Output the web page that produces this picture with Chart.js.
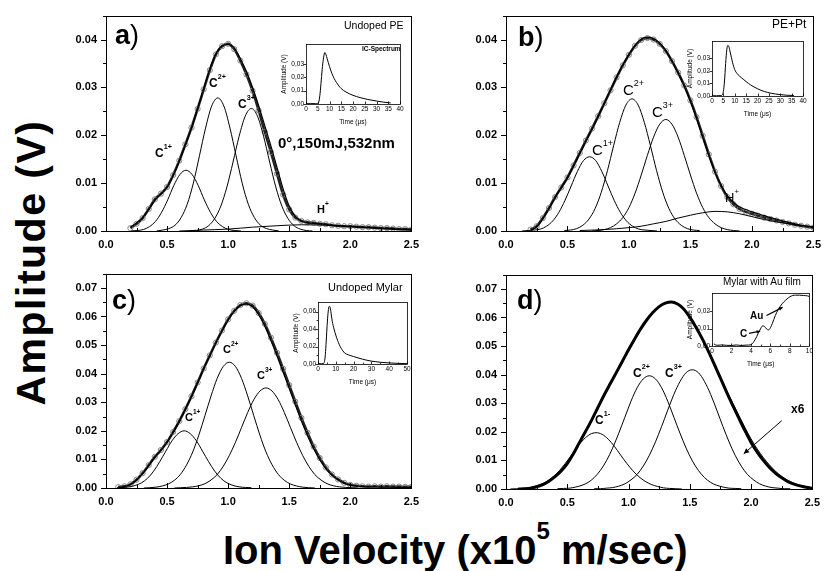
<!DOCTYPE html>
<html>
<head>
<meta charset="utf-8">
<script src="https://cdn.jsdelivr.net/npm/chart.js@4.4.1/dist/chart.umd.min.js"></script>
<style>
html, body { margin: 0; padding: 0; background: #fff; }
#fig { position: relative; width: 824px; height: 571px; overflow: hidden; font-family: "Liberation Sans", Arial, sans-serif; }
canvas { position: absolute; }
.t { position: absolute; line-height: 1; white-space: nowrap; color: #000; }
.s { position: relative; font-size: 0.6em; top: -1.05em; }
</style>
</head>
<body>
<div id="fig"></div>
<script>
// shared velocity grid (x10^5 m/sec)
const velocity = [0.10,0.15,0.20,0.25,0.30,0.35,0.40,0.45,0.50,0.55,0.60,0.65,0.70,0.75,0.80,0.85,0.90,0.95,1.00,1.05,1.10,1.15,1.20,1.25,1.30,1.35,1.40,1.45,1.50,1.55,1.60,1.65,1.70,1.75,1.80,1.85,1.90,1.95,2.00,2.05,2.10,2.15,2.20,2.25,2.30,2.35,2.40,2.45,2.50];

// a) undoped PE
const dataA = [null,null,0.0006,0.0015,0.0027,0.0046,0.0066,0.0078,0.0092,0.0117,0.0147,0.0181,0.0216,0.0255,0.0296,0.0336,0.0369,0.0386,0.0391,0.0380,0.0356,0.0327,0.0293,0.0252,0.0207,0.0165,0.0120,0.0076,0.0045,0.0028,0.0021,0.0018,0.0017,0.0015,0.0014,0.0012,0.0011,0.0010,0.0010,0.0009,0.0008,0.0008,0.0007,0.0006,0.0006,0.0005,0.0004,0.0004,0.0003];
const fitA = [null,null,0.0008,0.0017,0.0028,0.0045,0.0064,0.0077,0.0092,0.0116,0.0146,0.0180,0.0215,0.0256,0.0297,0.0338,0.0370,0.0387,0.0390,0.0382,0.0360,0.0333,0.0300,0.0262,0.0220,0.0178,0.0133,0.0088,0.0052,0.0031,0.0021,0.0017,0.0016,0.0015,0.0014,0.0012,0.0011,0.0010,0.0009,0.0009,0.0008,0.0007,0.0007,0.0006,0.0005,0.0005,0.0004,0.0004,0.0003];
const aC1x = [0.205,0.255,0.305,0.355,0.405,0.455,0.505,0.555,0.605,0.655,0.705,0.755,0.805,0.855,0.905,0.955,1.005,1.055,1.105];
const aC1y = [0.0000,0.0001,0.0003,0.0009,0.0020,0.0039,0.0065,0.0095,0.0118,0.0127,0.0118,0.0095,0.0065,0.0039,0.0020,0.0009,0.0003,0.0001,0.0000];
const aC2x = [0.415,0.465,0.515,0.565,0.615,0.665,0.715,0.765,0.815,0.865,0.915,0.965,1.015,1.065,1.115,1.165,1.215,1.265,1.315,1.365,1.415];
const aC2y = [0.0000,0.0002,0.0005,0.0012,0.0028,0.0056,0.0100,0.0157,0.0215,0.0261,0.0278,0.0261,0.0215,0.0157,0.0100,0.0056,0.0028,0.0012,0.0005,0.0002,0.0000];
const aC3x = [0.69,0.74,0.79,0.84,0.89,0.94,0.99,1.04,1.09,1.14,1.19,1.24,1.29,1.34,1.39,1.44,1.49,1.54,1.59,1.64,1.69];
const aC3y = [0.0000,0.0001,0.0004,0.0011,0.0026,0.0052,0.0092,0.0144,0.0198,0.0240,0.0256,0.0240,0.0198,0.0144,0.0092,0.0052,0.0026,0.0011,0.0004,0.0001,0.0000];
const aHx = [0.6,0.8,1.0,1.2,1.4,1.6,1.8,2.0,2.2,2.4,2.5];
const aHy = [0.0000,0.0002,0.0004,0.0008,0.0011,0.0013,0.0012,0.0009,0.0006,0.0003,0.0002];

// b) PE+Pt
const dataB = [null,null,0.0003,0.0010,0.0027,0.0048,0.0071,0.0091,0.0112,0.0137,0.0163,0.0189,0.0214,0.0240,0.0267,0.0294,0.0321,0.0346,0.0368,0.0387,0.0399,0.0403,0.0400,0.0391,0.0376,0.0355,0.0331,0.0304,0.0273,0.0238,0.0199,0.0160,0.0124,0.0094,0.0071,0.0056,0.0046,0.0040,0.0036,0.0032,0.0028,0.0025,0.0022,0.0019,0.0016,0.0013,0.0011,0.0009,0.0007];
const fitB = [null,null,0.0002,0.0009,0.0026,0.0047,0.0070,0.0091,0.0111,0.0136,0.0162,0.0188,0.0213,0.0240,0.0267,0.0295,0.0322,0.0347,0.0369,0.0388,0.0401,0.0405,0.0402,0.0393,0.0377,0.0355,0.0330,0.0303,0.0271,0.0235,0.0196,0.0158,0.0123,0.0095,0.0074,0.0060,0.0050,0.0045,0.0040,0.0036,0.0032,0.0028,0.0025,0.0021,0.0018,0.0015,0.0012,0.0010,0.0008];
const bC1x = [0.13,0.18,0.23,0.28,0.33,0.38,0.43,0.48,0.53,0.58,0.63,0.68,0.73,0.78,0.83,0.88,0.93,0.98,1.03,1.08,1.13,1.18,1.23];
const bC1y = [0.0000,0.0001,0.0002,0.0004,0.0010,0.0021,0.0039,0.0064,0.0094,0.0124,0.0147,0.0155,0.0147,0.0124,0.0094,0.0064,0.0039,0.0021,0.0010,0.0004,0.0002,0.0001,0.0000];
const bC2x = [0.475,0.525,0.575,0.625,0.675,0.725,0.775,0.825,0.875,0.925,0.975,1.025,1.075,1.125,1.175,1.225,1.275,1.325,1.375,1.425,1.475,1.525,1.575];
const bC2y = [0.0001,0.0002,0.0005,0.0012,0.0025,0.0047,0.0081,0.0126,0.0178,0.0227,0.0263,0.0276,0.0263,0.0227,0.0178,0.0126,0.0081,0.0047,0.0025,0.0012,0.0005,0.0002,0.0001];
const bC3x = [0.70,0.75,0.80,0.85,0.90,0.95,1.00,1.05,1.10,1.15,1.20,1.25,1.30,1.35,1.40,1.45,1.50,1.55,1.60,1.65,1.70,1.75,1.80,1.85,1.90];
const bC3y = [0.0000,0.0001,0.0003,0.0007,0.0015,0.0028,0.0049,0.0079,0.0117,0.0158,0.0196,0.0223,0.0233,0.0223,0.0196,0.0158,0.0117,0.0079,0.0049,0.0028,0.0015,0.0007,0.0003,0.0001,0.0000];
const bHx = [0.6,0.8,1.0,1.1,1.2,1.3,1.4,1.5,1.6,1.7,1.8,1.9,2.0,2.1,2.2,2.3,2.4,2.5];
const bHy = [0.0001,0.0003,0.0007,0.0010,0.0015,0.0020,0.0027,0.0033,0.0038,0.0041,0.0040,0.0036,0.0030,0.0024,0.0019,0.0015,0.0011,0.0008];

// c) undoped Mylar
const dataC = [0.0003,0.0006,0.0013,0.0029,0.0052,0.0080,0.0109,0.0133,0.0161,0.0196,0.0234,0.0276,0.0321,0.0369,0.0418,0.0464,0.0509,0.0551,0.0590,0.0620,0.0640,0.0646,0.0638,0.0612,0.0574,0.0526,0.0473,0.0417,0.0360,0.0302,0.0245,0.0193,0.0145,0.0105,0.0072,0.0047,0.0030,0.0018,0.0011,0.0008,0.0006,0.0005,0.0006,0.0005,0.0006,0.0005,0.0005,0.0004,0.0004];
const fitC = [0.0002,0.0005,0.0012,0.0028,0.0050,0.0078,0.0108,0.0132,0.0160,0.0195,0.0234,0.0276,0.0320,0.0368,0.0417,0.0463,0.0508,0.0550,0.0588,0.0618,0.0638,0.0644,0.0634,0.0606,0.0566,0.0516,0.0462,0.0405,0.0348,0.0290,0.0234,0.0183,0.0137,0.0099,0.0068,0.0045,0.0029,0.0017,0.0010,0.0007,0.0005,0.0004,0.0004,0.0003,0.0003,0.0003,0.0002,0.0002,0.0002];
const cC1x = [0.09,0.14,0.19,0.24,0.29,0.34,0.39,0.44,0.49,0.54,0.59,0.64,0.69,0.74,0.79,0.84,0.89,0.94,0.99,1.04,1.09,1.14,1.19];
const cC1y = [0.0001,0.0002,0.0004,0.0009,0.0018,0.0034,0.0059,0.0092,0.0129,0.0165,0.0190,0.0200,0.0190,0.0165,0.0129,0.0092,0.0059,0.0034,0.0018,0.0009,0.0004,0.0002,0.0001];
const cC2x = [0.31,0.36,0.41,0.46,0.51,0.56,0.61,0.66,0.71,0.76,0.81,0.86,0.91,0.96,1.01,1.06,1.11,1.16,1.21,1.26,1.31,1.36,1.41,1.46,1.51,1.56,1.61,1.66,1.71];
const cC2y = [0.0000,0.0001,0.0003,0.0007,0.0014,0.0027,0.0048,0.0081,0.0126,0.0185,0.0253,0.0322,0.0383,0.0425,0.0440,0.0425,0.0383,0.0322,0.0253,0.0185,0.0126,0.0081,0.0048,0.0027,0.0014,0.0007,0.0003,0.0001,0.0000];
const cC3x = [0.56,0.61,0.66,0.71,0.76,0.81,0.86,0.91,0.96,1.01,1.06,1.11,1.16,1.21,1.26,1.31,1.36,1.41,1.46,1.51,1.56,1.61,1.66,1.71,1.76,1.81,1.86,1.91,1.96,2.01,2.06];
const cC3y = [0.0000,0.0001,0.0002,0.0004,0.0008,0.0015,0.0028,0.0047,0.0076,0.0114,0.0160,0.0212,0.0264,0.0309,0.0339,0.0350,0.0339,0.0309,0.0264,0.0212,0.0160,0.0114,0.0076,0.0047,0.0028,0.0015,0.0008,0.0004,0.0002,0.0001,0.0000];

// d) Mylar with Au film
const fitD = [0.0000,0.0001,0.0003,0.0008,0.0015,0.0027,0.0043,0.0063,0.0089,0.0123,0.0163,0.0202,0.0242,0.0285,0.0328,0.0368,0.0407,0.0447,0.0487,0.0525,0.0561,0.0592,0.0618,0.0638,0.0650,0.0654,0.0647,0.0630,0.0601,0.0566,0.0527,0.0483,0.0436,0.0388,0.0339,0.0293,0.0248,0.0204,0.0163,0.0129,0.0100,0.0075,0.0055,0.0039,0.0026,0.0017,0.0011,0.0006,0.0003];
const tailX = [1.70,1.75,1.80,1.85,1.90,1.95,2.00,2.05,2.10,2.15,2.20,2.25,2.30,2.35,2.40,2.45,2.50];
const tailD = [0.0436,0.0391,0.0345,0.0300,0.0257,0.0215,0.0175,0.0140,0.0110,0.0084,0.0062,0.0044,0.0030,0.0020,0.0013,0.0008,0.0004];
const dC1x = [0.035,0.085,0.135,0.185,0.235,0.285,0.335,0.385,0.435,0.485,0.535,0.585,0.635,0.685,0.735,0.785,0.835,0.885,0.935,0.985,1.035,1.085,1.135,1.185,1.235,1.285,1.335,1.385,1.435];
const dC1y = [0.0000,0.0001,0.0002,0.0004,0.0009,0.0016,0.0027,0.0043,0.0064,0.0090,0.0119,0.0149,0.0174,0.0191,0.0197,0.0191,0.0174,0.0149,0.0119,0.0090,0.0064,0.0043,0.0027,0.0016,0.0009,0.0004,0.0002,0.0001,0.0000];
const dC2x = [0.42,0.47,0.52,0.57,0.62,0.67,0.72,0.77,0.82,0.87,0.92,0.97,1.02,1.07,1.12,1.17,1.22,1.27,1.32,1.37,1.42,1.47,1.52,1.57,1.62,1.67,1.72,1.77,1.82,1.87,1.92];
const dC2y = [0.0001,0.0002,0.0003,0.0007,0.0013,0.0023,0.0040,0.0065,0.0099,0.0143,0.0195,0.0251,0.0307,0.0354,0.0385,0.0396,0.0385,0.0354,0.0307,0.0251,0.0195,0.0143,0.0099,0.0065,0.0040,0.0023,0.0013,0.0007,0.0003,0.0002,0.0001];
const dC3x = [0.72,0.77,0.82,0.87,0.92,0.97,1.02,1.07,1.12,1.17,1.22,1.27,1.32,1.37,1.42,1.47,1.52,1.57,1.62,1.67,1.72,1.77,1.82,1.87,1.92,1.97,2.02,2.07,2.12,2.17,2.22,2.27,2.32];
const dC3y = [0.0001,0.0001,0.0003,0.0005,0.0010,0.0018,0.0032,0.0051,0.0080,0.0118,0.0165,0.0219,0.0276,0.0331,0.0376,0.0407,0.0417,0.0407,0.0376,0.0331,0.0276,0.0219,0.0165,0.0118,0.0080,0.0051,0.0032,0.0018,0.0010,0.0005,0.0003,0.0001,0.0001];

// insets: IC spectra vs time (us)
const timeA = [0,1,2,3,4,5,5.5,6,6.5,7,7.5,8,8.5,9,10,11,12,13,14,15,17,20,23,26,30,33,36];
const icA = [0.0003,0.0003,0.0003,0.0003,0.0003,0.0005,0.0020,0.0080,0.0180,0.0280,0.0350,0.0385,0.0370,0.0340,0.0280,0.0230,0.0190,0.0160,0.0135,0.0115,0.0090,0.0065,0.0048,0.0035,0.0022,0.0014,0.0008];
const timeB = [0,2,4,4.5,5,5.5,6,6.5,7,7.5,8,8.5,9,10,11,12,13,14,15,17,20,23,26,30,33,36];
const icB = [0.0002,0.0002,0.0003,0.0008,0.0035,0.0120,0.0260,0.0370,0.0405,0.0390,0.0350,0.0310,0.0270,0.0210,0.0180,0.0160,0.0145,0.0130,0.0115,0.0088,0.0058,0.0036,0.0022,0.0011,0.0006,0.0004];
const timeC = [0,2,3,3.5,4,4.5,5,5.5,6,6.5,7,7.5,8,9,10,11,12,13,14,15,17,20,25,30,35,40,45,50];
const icC = [0.0003,0.0003,0.0005,0.0020,0.0080,0.0220,0.0400,0.0550,0.0640,0.0660,0.0630,0.0560,0.0490,0.0400,0.0330,0.0270,0.0220,0.0180,0.0150,0.0125,0.0105,0.0085,0.0055,0.0033,0.0020,0.0012,0.0007,0.0004];
const timeD = [0.2,0.5,1,1.5,2,2.5,3,3.5,4,4.3,4.6,4.9,5.2,5.4,5.6,5.8,6,6.2,6.5,6.8,7.1,7.4,7.7,8,8.3,8.6,9,9.4,9.8,10];
const icD = [0.0012,0.0004,0.0006,0.0004,0.0003,0.0006,0.0003,0.0005,0.0007,0.0025,0.0055,0.0090,0.0115,0.0112,0.0098,0.0092,0.0105,0.0130,0.0175,0.0210,0.0235,0.0255,0.0270,0.0283,0.0290,0.0292,0.0292,0.0290,0.0288,0.0284];

const FONT = '"Liberation Sans", Arial, sans-serif';
Chart.defaults.font.family = FONT;
Chart.defaults.color = '#000';

const fig = document.getElementById('fig');

function pts(xs, ys) {
  const out = [];
  xs.forEach((x, i) => { if (ys[i] !== null) out.push({ x: x, y: ys[i] }); });
  return out;
}

function near(v, step) {
  return Math.abs(v / step - Math.round(v / step)) < 1e-6;
}

// box around the plot, Origin-style ticks, arrows
const framePlugin = {
  id: 'frame',
  afterDatasetsDraw(chart, args, o) {
    const { ctx, chartArea: a, scales } = chart;
    ctx.save();
    ctx.strokeStyle = '#000';
    ctx.fillStyle = '#000';
    ctx.lineWidth = o.width;
    ctx.strokeRect(Math.round(a.left) + 0.5, Math.round(a.top) + 0.5,
      Math.round(a.right - a.left), Math.round(a.bottom - a.top));
    ctx.beginPath();
    scales.x.ticks.forEach(t => {
      if (!near(t.value, o.xMinor)) return;
      const px = Math.round(scales.x.getPixelForValue(t.value)) + 0.5;
      const len = near(t.value, o.xMajor) ? o.tick : o.minor;
      ctx.moveTo(px, a.bottom);
      ctx.lineTo(px, a.bottom - len);
    });
    scales.y.ticks.forEach(t => {
      if (!near(t.value, o.yMinor)) return;
      const py = Math.round(scales.y.getPixelForValue(t.value)) + 0.5;
      const len = near(t.value, o.yMajor) ? o.tick : o.minor;
      ctx.moveTo(a.left, py);
      ctx.lineTo(a.left - len, py);
    });
    ctx.stroke();
    (o.arrows || []).forEach(ar => {
      const x1 = scales.x.getPixelForValue(ar.from[0]), y1 = scales.y.getPixelForValue(ar.from[1]);
      const x2 = scales.x.getPixelForValue(ar.to[0]), y2 = scales.y.getPixelForValue(ar.to[1]);
      ctx.lineWidth = ar.w;
      ctx.beginPath();
      ctx.moveTo(x1, y1);
      ctx.lineTo(x2, y2);
      ctx.stroke();
      const ang = Math.atan2(y2 - y1, x2 - x1), h = ar.head;
      ctx.beginPath();
      ctx.moveTo(x2, y2);
      ctx.lineTo(x2 - h * Math.cos(ang - 0.45), y2 - h * Math.sin(ang - 0.45));
      ctx.lineTo(x2 - h * Math.cos(ang + 0.45), y2 - h * Math.sin(ang + 0.45));
      ctx.closePath();
      ctx.fill();
    });
    ctx.restore();
  }
};

function makeChart(box, datasets, o) {
  const cv = document.createElement('canvas');
  cv.width = box.w;
  cv.height = box.h;
  cv.style.left = box.x + 'px';
  cv.style.top = box.y + 'px';
  fig.appendChild(cv);
  const tickFont = { size: o.font, weight: o.bold ? 'bold' : 'normal' };
  const title = (text, pad) => text
    ? { display: true, text: text, font: { size: o.font }, padding: pad }
    : { display: false };
  return new Chart(cv, {
    type: 'scatter',
    data: { datasets: datasets },
    plugins: [framePlugin],
    options: {
      responsive: false,
      animation: false,
      devicePixelRatio: 1,
      layout: { padding: { top: box.pt, right: box.pr, left: 0, bottom: 0 } },
      elements: {
        point: { radius: 0 },
        line: { cubicInterpolationMode: 'monotone', borderColor: '#000', borderWidth: 1 }
      },
      plugins: {
        legend: { display: false },
        tooltip: { enabled: false },
        frame: {
          width: o.frame, tick: o.tick, minor: o.minor,
          xMinor: o.xMinor, xMajor: o.xMajor, yMinor: o.yMinor, yMajor: o.yMajor,
          arrows: o.arrows
        }
      },
      scales: {
        x: {
          type: 'linear', min: o.x[0], max: o.x[1],
          grid: { display: false, drawTicks: false }, border: { display: false },
          ticks: {
            stepSize: o.xMinor, autoSkip: false, maxRotation: 0, padding: o.xPad, font: tickFont,
            callback: v => near(v, o.xMajor) ? o.xFmt(v) : ''
          },
          title: title(o.xTitle, { top: 0, bottom: 0 }),
          afterFit: s => { s.height = box.xh; }
        },
        y: {
          type: 'linear', min: o.y[0], max: o.y[1],
          grid: { display: false, drawTicks: false }, border: { display: false },
          ticks: {
            stepSize: o.yMinor, autoSkip: false, padding: o.yPad, font: tickFont,
            callback: v => near(v, o.yMajor) ? o.yFmt(v) : ''
          },
          title: title(o.yTitle, { top: 0, bottom: 1 }),
          afterFit: s => { s.width = box.yw; }
        }
      }
    }
  });
}

const mainAxes = (ymax) => ({
  x: [0, 2.5], y: [0, ymax], xMinor: 0.25, xMajor: 0.5, yMinor: 0.005, yMajor: 0.01,
  font: 11, bold: true, xFmt: v => v.toFixed(1), yFmt: v => v.toFixed(2),
  xPad: 7, yPad: 9, tick: 5, minor: 3, frame: 1
});

const insetAxes = (xmax, xMajor, xMinor, ymax, yMajor) => ({
  x: [0, xmax], y: [0, ymax], xMinor: xMinor, xMajor: xMajor, yMinor: 0.01, yMajor: yMajor,
  font: 6.5, bold: false, xFmt: v => String(Math.round(v)), yFmt: v => v.toFixed(2).replace('.', ','),
  xPad: 1, yPad: 2, tick: 2.5, minor: 1.5, frame: 0.8, xTitle: 'Time (μs)', yTitle: 'Amplitude (V)'
});

const fitLine = (d, w) => ({ data: d, showLine: true, borderColor: '#000', borderWidth: w, pointRadius: 0 });
const thin = d => ({ data: d, showLine: true, borderColor: '#000', borderWidth: 1, pointRadius: 0 });
const measured = d => ({
  data: d, showLine: true, borderColor: '#222', borderWidth: 2.6,
  pointRadius: 2.6, pointStyle: 'circle', pointBorderColor: '#7a7a7a',
  pointBackgroundColor: 'rgba(0,0,0,0)', pointBorderWidth: 0.9
});

// main panels (dataset 0 is drawn on top)
makeChart({ x: 56, y: 0, w: 370, h: 256, pt: 12, pr: 12, yw: 50, xh: 25 }, [
  fitLine(pts(velocity, fitA), 1.2),
  thin(pts(aC1x, aC1y)), thin(pts(aC2x, aC2y)), thin(pts(aC3x, aC3y)), thin(pts(aHx, aHy)),
  measured(pts(velocity, dataA))
], mainAxes(0.045));

makeChart({ x: 456, y: 0, w: 372, h: 256, pt: 10, pr: 12, yw: 50, xh: 25 }, [
  fitLine(pts(velocity, fitB), 1.2),
  thin(pts(bC1x, bC1y)), thin(pts(bC2x, bC2y)), thin(pts(bC3x, bC3y)), thin(pts(bHx, bHy)),
  measured(pts(velocity, dataB))
], mainAxes(0.045));

makeChart({ x: 56, y: 258, w: 370, h: 256, pt: 12, pr: 12, yw: 50, xh: 26 }, [
  fitLine(pts(velocity, fitC), 1.2),
  thin(pts(cC1x, cC1y)), thin(pts(cC2x, cC2y)), thin(pts(cC3x, cC3y)),
  measured(pts(velocity, dataC))
], mainAxes(0.075));

const dAxes = mainAxes(0.075);
dAxes.arrows = [{ from: [2.25, 0.0239], to: [1.94, 0.0123], head: 6, w: 1 }];
makeChart({ x: 456, y: 259, w: 371, h: 256, pt: 12, pr: 12, yw: 50, xh: 26 }, [
  fitLine(pts(velocity, fitD), 3),
  thin(pts(tailX, tailD)),
  thin(pts(dC1x, dC1y)), thin(pts(dC2x, dC2y)), thin(pts(dC3x, dC3y))
], dAxes);

// insets
makeChart({ x: 280, y: 38, w: 125, h: 88, pt: 5, pr: 5, yw: 26, xh: 22 },
  [thin(pts(timeA, icA))], insetAxes(40, 5, 5, 0.045, 0.01));
makeChart({ x: 686, y: 35, w: 122, h: 83, pt: 5, pr: 5, yw: 26, xh: 22 },
  [thin(pts(timeB, icB))], insetAxes(40, 5, 5, 0.044, 0.01));
makeChart({ x: 292, y: 296, w: 120, h: 90, pt: 5, pr: 5, yw: 26, xh: 22 },
  [thin(pts(timeC, icC))], insetAxes(50, 10, 5, 0.071, 0.02));
const insetD = insetAxes(10, 2, 1, 0.0305, 0.01);
insetD.arrows = [
  { from: [5.6, 0.0175], to: [7.25, 0.0222], head: 4, w: 1.3 },
  { from: [3.8, 0.0073], to: [4.95, 0.0085], head: 4, w: 1.3 }
];
makeChart({ x: 686, y: 287, w: 128, h: 81, pt: 5, pr: 4, yw: 26, xh: 22 },
  [thin(pts(timeD, icD))], insetD);

// text
function txt(html, x, base, size, weight) {
  const d = document.createElement('div');
  d.className = 't';
  d.innerHTML = html;
  d.style.left = x + 'px';
  d.style.top = (base - 0.847 * size) + 'px';
  d.style.fontSize = size + 'px';
  d.style.fontWeight = weight || 'normal';
  fig.appendChild(d);
  return d;
}
const sup = (b, s) => b + '<span class="s">' + s + '</span>';

txt('<b>a</b>)', 115, 45, 27);
txt('Undoped PE', 344, 29, 10.5);
txt(sup('C', '1+'), 155, 157, 12, 'bold');
txt(sup('C', '2+'), 209, 87, 12, 'bold');
txt(sup('C', '3+'), 238, 108, 12, 'bold');
txt('0°,150mJ,532nm', 278, 148, 15, 'bold');
txt(sup('H', '+'), 317, 213, 11, 'bold');
txt('IC-Spectrum', 362, 52, 6.5, 'bold');

txt('<b>b</b>)', 518, 47, 27);
txt('PE+Pt', 772, 28, 12);
txt(sup('C', '1+'), 592, 155, 15);
txt(sup('C', '2+'), 623, 95, 15);
txt(sup('C', '3+'), 652, 117, 15);
txt(sup('H', '+'), 725, 202, 13);

txt('<b>c</b>)', 112, 310, 27);
txt('Undoped Mylar', 328, 291, 11);
txt(sup('C', '1+'), 185, 421, 11, 'bold');
txt(sup('C', '2+'), 223, 353, 11, 'bold');
txt(sup('C', '3+'), 257, 379, 11, 'bold');

txt('<b>d</b>)', 517, 310, 27);
txt('Mylar with Au film', 723, 285, 10);
txt(sup('C', '1-'), 595, 424, 12, 'bold');
txt(sup('C', '2+'), 633, 377, 12, 'bold');
txt(sup('C', '3+'), 665, 377, 12, 'bold');
txt('x6', 791, 413, 12, 'bold');
txt('Au', 750, 319, 10, 'bold');
txt('C', 740, 337, 10, 'bold');

txt('Ion Velocity (x10' + '<span class="s">5</span>' + ' m/sec)', 223, 564, 40, 'bold');

const yt = document.createElement('div');
yt.className = 't';
yt.textContent = 'Amplitude (V)';
yt.style.cssText += 'font-size:41px;font-weight:bold;letter-spacing:1.5px;width:320px;height:41px;text-align:center;' +
  'left:' + (31 - 160) + 'px;top:' + (262 - 20.5) + 'px;transform:rotate(-90deg);transform-origin:50% 50%;';
fig.appendChild(yt);
</script>
</body>
</html>
